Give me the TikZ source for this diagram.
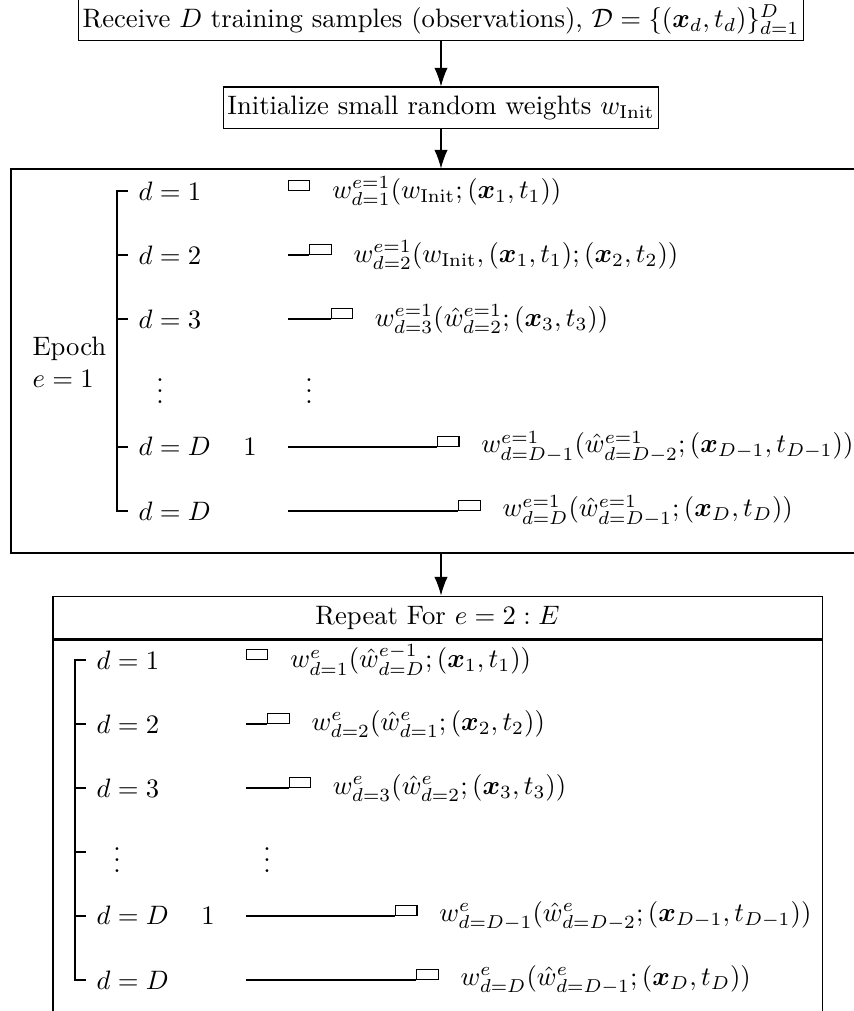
\documentclass[tikz,border=0pt]{standalone}
\usepackage{amsmath}
\usepackage{amssymb}
\usetikzlibrary{arrows.meta, positioning}

\begin{document}
\begin{tikzpicture}[
    x=0.375pt, y=-0.375pt,
    every node/.style={align=center},
    arrow/.style={-{Latex[length=7pt,width=5pt]}},
    box/.style={draw, inner xsep=1.5pt, inner ysep=0pt, minimum height=15.4pt},
    upd/.style={draw, minimum width=8pt, minimum height=3.75pt, inner sep=0pt, anchor=south west},
    lbl/.style={anchor=west, inner xsep=3.75pt, inner ysep=0pt},
    eq/.style={anchor=west, inner sep=0pt},
    dots/.style={inner sep=0pt}
  ]
  \useasboundingbox (0,0) rectangle (854,1011);
  \clip (0,0) rectangle (854,1011);

  % Boxes on top
  \node[box, anchor=south] (recv) at (441,41) {Receive $D$ training samples (observations), $\mathcal{D}=\{(\boldsymbol{x}_d,t_d)\}_{d=1}^{D}$};
  \node[box] (init) at (441,107.5) {Initialize small random weights $w_{\mathrm{Init}}$};

  % Epoch 1
  \node[draw, minimum width=322.5pt, minimum height=144pt] (epoch) at (441,361) {};
  \node[anchor=west, align=left, inner sep=0pt] (elab) at (32,362) {Epoch\\$e=1$};

  \node[lbl] (ed1) at (128,191) {$d=1$};
  \node[lbl] (ed2) at (128,255) {$d=2$};
  \node[lbl] (ed3) at (128,319) {$d=3$};
  \node[lbl] (ed8) at (128,447) {$d=D\mathbin{\phantom{-}}1$};
  \node[lbl] (ed9) at (128,511) {$d=D$};
  \node[dots] (eldots) at (160,383) {$\vdots$};
  \node[dots] (erdots) at (309,383) {$\vdots$};

  \coordinate (es2) at (288,255);
  \coordinate (es3) at (288,319);
  \coordinate (es8) at (288,447);
  \coordinate (es9) at (288,511);
  \node[upd] (eu1) at (288,191) {};
  \node[upd] (eu2) at (309.3,255) {};
  \node[upd] (eu3) at (330.6,319) {};
  \node[upd] (eu8) at (437.1,447) {};
  \node[upd] (eu9) at (458.4,511) {};

  \node[eq] (ew1) at ([xshift=8pt]eu1.south east) {$w^{e=1}_{d=1}(w_{\mathrm{Init}};(\boldsymbol{x}_1,t_1))$};
  \node[eq] (ew2) at ([xshift=8pt]eu2.south east) {$w^{e=1}_{d=2}(w_{\mathrm{Init}},(\boldsymbol{x}_1,t_1);(\boldsymbol{x}_2,t_2))$};
  \node[eq] (ew3) at ([xshift=8pt]eu3.south east) {$w^{e=1}_{d=3}(\hat{w}^{e=1}_{d=2};(\boldsymbol{x}_3,t_3))$};
  \node[eq] (ew8) at ([xshift=8pt]eu8.south east) {$w^{e=1}_{d=D-1}(\hat{w}^{e=1}_{d=D-2};(\boldsymbol{x}_{D-1},t_{D-1}))$};
  \node[eq] (ew9) at ([xshift=8pt]eu9.south east) {$w^{e=1}_{d=D}(\hat{w}^{e=1}_{d=D-1};(\boldsymbol{x}_D,t_D))$};

  % bracket and time lines
  \draw (ed1.west) -- ++(-11,0) |- (ed9.west);
  \draw (ed2.west) -- ++(-11,0);
  \draw (ed3.west) -- ++(-11,0);
  \draw (ed8.west) -- ++(-11,0);
  \draw (es2) -- (eu2.south west);
  \draw (es3) -- (eu3.south west);
  \draw (es8) -- (eu8.south west);
  \draw (es9) -- (eu9.south west);

  % Repeat for the other epochs
  \node[draw, minimum width=288.4pt, minimum height=16.1pt] (rhead) at (437.5,617.5) {Repeat For $e=2:E$};
  \node[draw, minimum width=288.4pt, minimum height=150pt, below=0pt of rhead] (rbody) {};

  \node[lbl] (rd1) at (86,660) {$d=1$};
  \node[lbl] (rd2) at (86,724) {$d=2$};
  \node[lbl] (rd3) at (86,788) {$d=3$};
  \node[lbl] (rd8) at (86,916) {$d=D\mathbin{\phantom{-}}1$};
  \node[lbl] (rd9) at (86,980) {$d=D$};
  \coordinate (rd4) at (86,852);
  \node[dots] (rldots) at (117,852) {$\vdots$};
  \node[dots] (rrdots) at (267,852) {$\vdots$};

  \coordinate (rs2) at (246,724);
  \coordinate (rs3) at (246,788);
  \coordinate (rs8) at (246,916);
  \coordinate (rs9) at (246,980);
  \node[upd] (ru1) at (246,660) {};
  \node[upd] (ru2) at (267.3,724) {};
  \node[upd] (ru3) at (288.6,788) {};
  \node[upd] (ru8) at (395.1,916) {};
  \node[upd] (ru9) at (416.4,980) {};

  \node[eq] (rw1) at ([xshift=8pt]ru1.south east) {$w^{e}_{d=1}(\hat{w}^{e-1}_{d=D};(\boldsymbol{x}_1,t_1))$};
  \node[eq] (rw2) at ([xshift=8pt]ru2.south east) {$w^{e}_{d=2}(\hat{w}^{e}_{d=1};(\boldsymbol{x}_2,t_2))$};
  \node[eq] (rw3) at ([xshift=8pt]ru3.south east) {$w^{e}_{d=3}(\hat{w}^{e}_{d=2};(\boldsymbol{x}_3,t_3))$};
  \node[eq] (rw8) at ([xshift=8pt]ru8.south east) {$w^{e}_{d=D-1}(\hat{w}^{e}_{d=D-2};(\boldsymbol{x}_{D-1},t_{D-1}))$};
  \node[eq] (rw9) at ([xshift=8pt]ru9.south east) {$w^{e}_{d=D}(\hat{w}^{e}_{d=D-1};(\boldsymbol{x}_D,t_D))$};

  \draw (rd1.west) -- ++(-11,0) |- (rd9.west);
  \draw (rd2.west) -- ++(-11,0);
  \draw (rd3.west) -- ++(-11,0);
  \draw (rd4) -- ++(-11,0);
  \draw (rd8.west) -- ++(-11,0);
  \draw (rs2) -- (ru2.south west);
  \draw (rs3) -- (ru3.south west);
  \draw (rs8) -- (ru8.south west);
  \draw (rs9) -- (ru9.south west);

  % Arrows
  \draw[arrow] (recv) -- (init);
  \draw[arrow] (init) -- (epoch);
  \draw[arrow] (epoch.south) -- (epoch.south |- rhead.north);
\end{tikzpicture}
\end{document}
